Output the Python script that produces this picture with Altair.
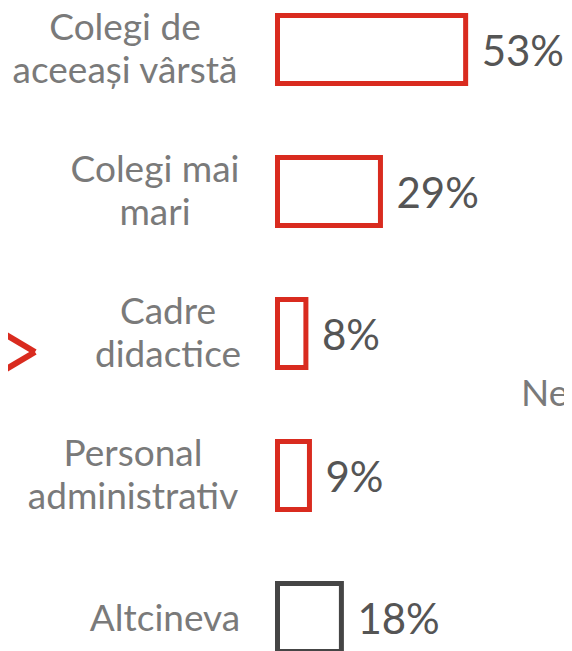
import altair as alt
import pandas as pd

# ---- data ----
categories = [
    "Colegi de\naceeași vârstă",
    "Colegi mai\nmari",
    "Cadre\ndidactice",
    "Personal\nadministrativ",
    "Altcineva",
]
values = [53, 29, 8, 9, 18]
value_labels = ["53%", "29%", "8%", "9%", "18%"]
groups = ["main", "main", "main", "main", "other"]

# ---- layout / style (not data) ----
RED = "#d92b1f"
DARK = "#454545"
LABEL_GREY = "#7a7a7a"
VALUE_GREY = "#555555"
FONT = "Lato"
label_right_edge = 231          # plot px, right edge of the label column
label_block_widths = [228, 168, 142, 212, 148]   # widest line of each label, px

df = pd.DataFrame({
    "cat": categories,
    "value": values,
    "vlabel": value_labels,
    "group": groups,
    "lines": [c.count("\n") + 1 for c in categories],
    "lx": [label_right_edge - w / 2 for w in label_block_widths],
})

W, H = 556, 643

xscale = alt.Scale(domain=[0, 100], range=[269.5, 269.5 + 355])
yscale = alt.Scale(domain=categories, range=[-29.5, 680.5],
                   paddingInner=0.521, paddingOuter=0.2605)

base = alt.Chart(df)

bars = base.mark_bar(fill="white", strokeWidth=5, strokeJoin="miter").encode(
    x=alt.X("value:Q", scale=xscale, axis=None),
    y=alt.Y("cat:N", scale=yscale, axis=None, sort=categories),
    stroke=alt.Stroke("group:N",
                      scale=alt.Scale(domain=["main", "other"], range=[RED, DARK]),
                      legend=None),
)

def label_layer(n, dy):
    return base.transform_filter(alt.datum.lines == n).mark_text(
        font=FONT, fontSize=37, color=LABEL_GREY, align="center",
        baseline="middle", lineBreak="\n", lineHeight=43, dy=dy,
    ).encode(
        x=alt.X("lx:Q", scale=None),
        y=alt.Y("cat:N", scale=yscale, axis=None, sort=categories),
        text="cat:N",
    )

labels2 = label_layer(2, -21)
labels1 = label_layer(1, 2)

vals = base.mark_text(
    font=FONT, fontSize=42, color=VALUE_GREY, align="left",
    baseline="middle", dx=16, dy=3,
).encode(
    x=alt.X("value:Q", scale=xscale, axis=None),
    y=alt.Y("cat:N", scale=yscale, axis=None, sort=categories),
    text="vlabel:N",
)

one = pd.DataFrame({"k": [0]})
chev_top = alt.Chart(one).mark_rule(color=RED, strokeWidth=6).encode(
    x=alt.value(-10), y=alt.value(322), x2=alt.value(27), y2=alt.value(344))
chev_bot = alt.Chart(one).mark_rule(color=RED, strokeWidth=6).encode(
    x=alt.value(-10), y=alt.value(366), x2=alt.value(27), y2=alt.value(344))

nep = alt.Chart(one).mark_text(
    font=FONT, fontSize=37, color=LABEL_GREY, align="left", baseline="middle",
).encode(x=alt.value(513), y=alt.value(387), text=alt.value("Nep"))

chart = alt.layer(bars, labels2, labels1, vals, chev_top, chev_bot, nep).properties(
    width=W, height=H,
    autosize=alt.AutoSizeParams(type="none"),
    padding=0,
).configure_view(stroke=None)

chart.save("out.html", embed_options={"renderer": "svg", "actions": False})
